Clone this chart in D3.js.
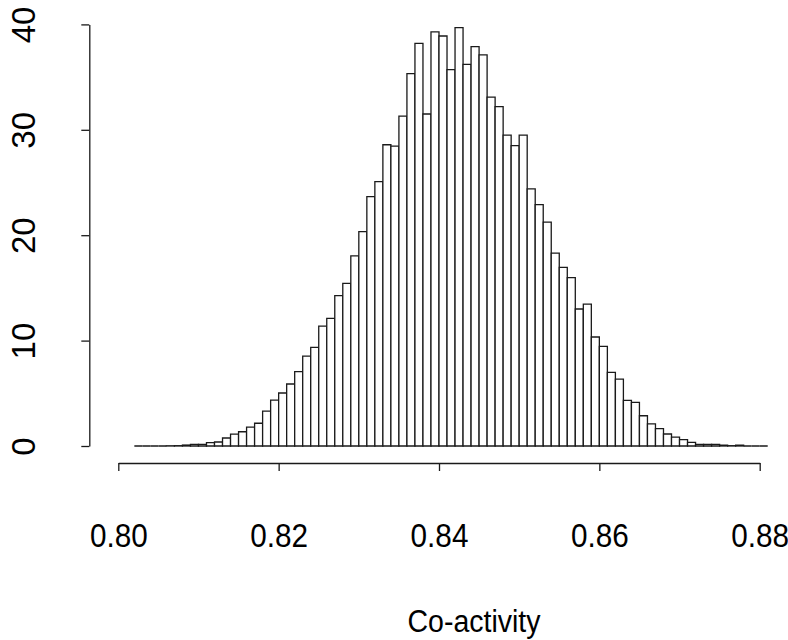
<!DOCTYPE html>
<html>
<head>
<meta charset="utf-8">
<script src="https://cdn.jsdelivr.net/npm/d3@7"></script>
<style>
  html, body { margin: 0; padding: 0; background: #ffffff; }
  svg { display: block; }
  text { font-family: "Liberation Sans", Arial, Helvetica, sans-serif; fill: #000; }
</style>
</head>
<body>
<svg id="chart" width="788" height="640"></svg>
<script>
// ---- data ----
const binStart = 0.802;
const binWidth = 0.001;
const densities = [
  0, 0, 0, 0, 0.02, 0.03, 0.09, 0.16, 0.16, 0.32,
  0.38, 0.76, 1.13, 1.35, 1.80, 2.16, 3.30, 4.35, 5.03, 5.88,
  7.06, 8.52, 9.36, 11.38, 12.11, 14.26, 15.43, 18.03, 20.34, 23.66,
  25.08, 28.58, 28.46, 31.3, 35.33, 38.2, 31.5, 39.3, 38.9, 35.7,
  39.7, 36.2, 37.9, 37.1, 33.1, 32.2, 29.5, 28.5, 29.5, 24.4,
  22.9, 21.25, 18.3, 16.95, 15.97, 13.0, 13.47, 10.34, 9.45, 6.98,
  6.35, 4.33, 4.14, 2.87, 2.09, 1.64, 1.14, 0.85, 0.60, 0.34,
  0.15, 0.15, 0.15, 0.08, 0.03, 0.08, 0, 0, 0
];
const xTicks = [0.80, 0.82, 0.84, 0.86, 0.88];
const yTicks = [0, 10, 20, 30, 40];
const xTitle = "Co-activity";

// ---- layout ----
const svg = d3.select("#chart");
const x = d3.scaleLinear().domain([0.80, 0.88]).range([118.3, 759.7]);
const y = d3.scaleLinear().domain([0, 40]).range([446, 24.4]);

const bins = densities.map((v, i) => ({
  x0: binStart + i * binWidth,
  x1: binStart + (i + 1) * binWidth,
  v: v
}));

// bars (drawn as closed paths so zero-height bins still show their outline)
svg.append("g")
  .selectAll("path")
  .data(bins)
  .join("path")
  .attr("d", d => {
    const p = d3.path();
    p.moveTo(x(d.x0), y(0));
    p.lineTo(x(d.x0), y(d.v));
    p.lineTo(x(d.x1), y(d.v));
    p.lineTo(x(d.x1), y(0));
    p.closePath();
    return p.toString();
  })
  .attr("fill", "#ffffff")
  .attr("stroke", "#1a1a1a")
  .attr("stroke-width", 1.3);

const fontSize = "33px";

// x axis
const gx = svg.append("g")
  .attr("transform", "translate(0,463)")
  .call(d3.axisBottom(x).tickValues(xTicks).tickFormat(d => d.toFixed(2)).tickSizeInner(8).tickSizeOuter(0));
gx.select(".domain").attr("stroke", "#1a1a1a").attr("stroke-width", 1.3);
gx.selectAll(".tick line").attr("stroke", "#1a1a1a").attr("stroke-width", 1.3);
gx.selectAll(".tick text")
  .attr("y", 84).attr("dy", 0)
  .attr("transform", "scale(0.9,1)")
  .style("font-size", fontSize)
  .style("font-family", "'Liberation Sans', Arial, sans-serif")
  .attr("fill", "#111");

// y axis
const gy = svg.append("g")
  .attr("transform", "translate(89.3,0)")
  .call(d3.axisLeft(y).tickValues(yTicks).tickFormat(d3.format("d")).tickSizeInner(8).tickSizeOuter(0));
gy.select(".domain").attr("stroke", "#1a1a1a").attr("stroke-width", 1.3);
gy.selectAll(".tick line").attr("stroke", "#1a1a1a").attr("stroke-width", 1.3);
gy.selectAll(".tick text")
  .attr("x", 0).attr("dy", 0)
  .attr("y", -54)
  .attr("transform", "rotate(-90)")
  .attr("text-anchor", "middle")
  .style("font-size", fontSize)
  .style("font-family", "'Liberation Sans', Arial, sans-serif")
  .attr("fill", "#111");

// x title
svg.append("text")
  .attr("transform", "translate(474,632) scale(0.92,1)")
  .attr("text-anchor", "middle")
  .style("font-size", "31px")
  .attr("fill", "#111")
  .text(xTitle);
</script>
</body>
</html>
